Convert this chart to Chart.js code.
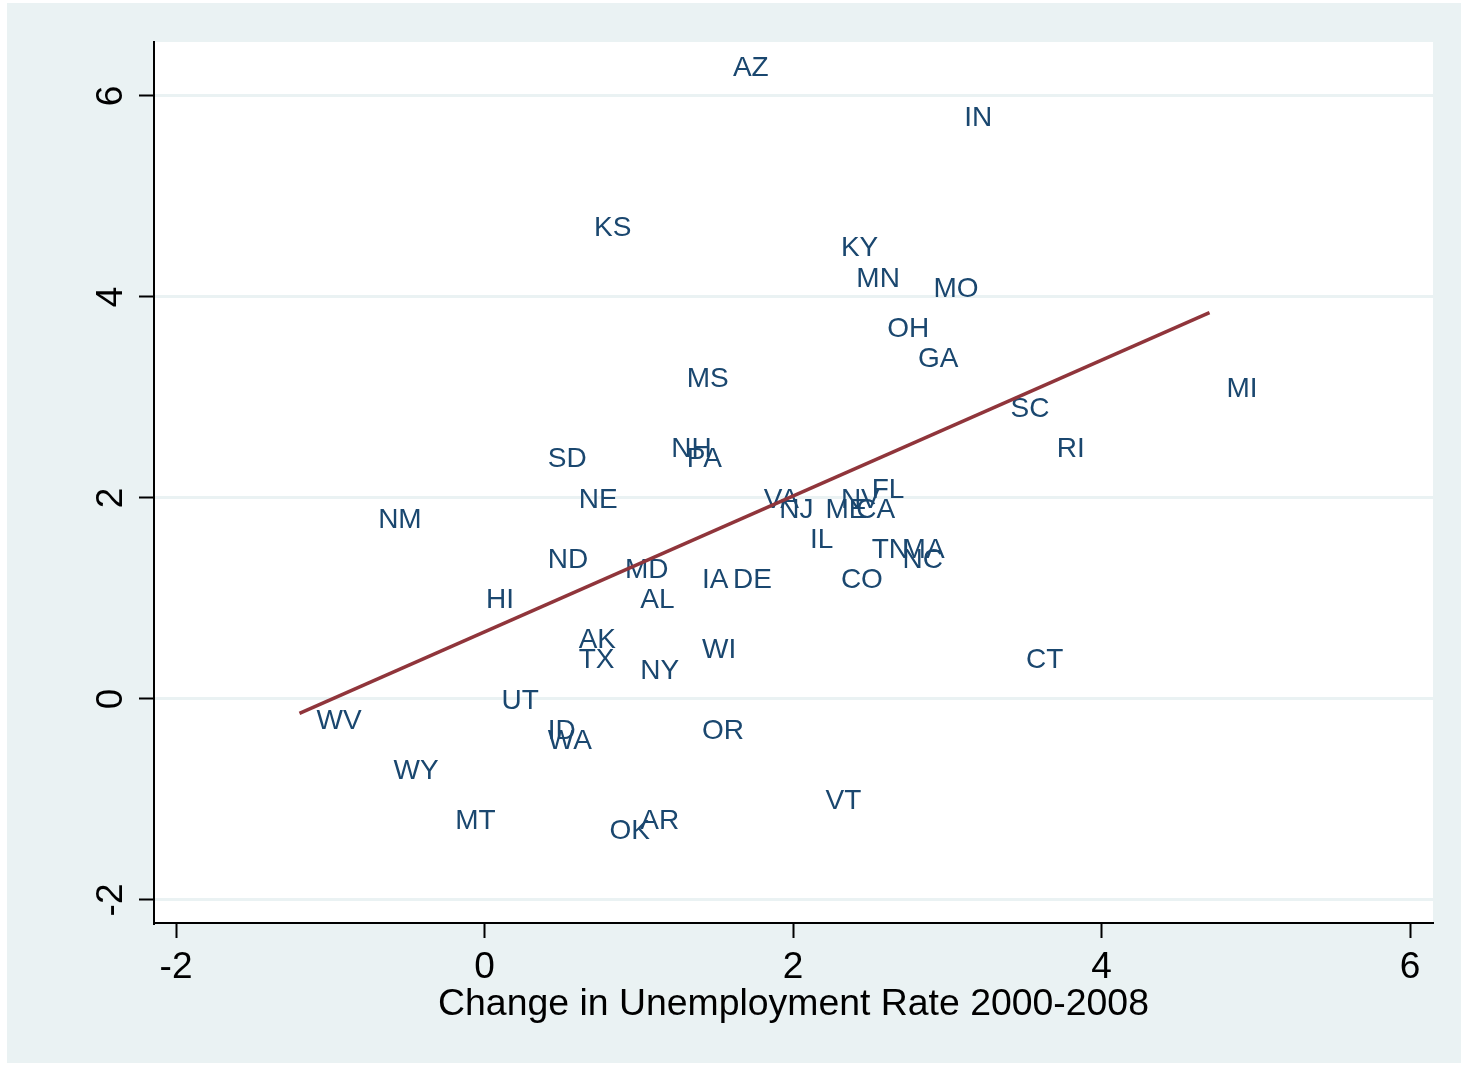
<!DOCTYPE html>
<html>
<head>
<meta charset="utf-8">
<title>Unemployment change by state</title>
<script src="https://cdn.jsdelivr.net/npm/chart.js@4.4.1/dist/chart.umd.min.js"></script>
<style>
  html, body { margin: 0; padding: 0; background: #fff; overflow: hidden; }
  canvas { display: block; }
</style>
</head>
<body>
<canvas id="myChart" width="1461" height="1065"></canvas>
<script>
// state codes, change in unemployment 2000-2008 (x) and the outcome on the y axis
const states = [
  'AZ', 'IN', 'KS', 'KY', 'MN', 'MO', 'OH', 'GA', 'MS', 'MI',
  'SC', 'RI', 'NH', 'PA', 'SD', 'NE', 'VA', 'NV', 'FL', 'NJ',
  'ME', 'CA', 'IL', 'TN', 'MA', 'NC', 'CO', 'NM', 'ND', 'MD',
  'IA', 'DE', 'AL', 'HI', 'AK', 'TX', 'WI', 'NY', 'CT', 'UT',
  'WV', 'ID', 'WA', 'OR', 'WY', 'VT', 'MT', 'AR', 'OK'
];
const unempChange = [
  1.5, 3.0, 0.6, 2.2, 2.3, 2.8, 2.5, 2.7, 1.2, 4.7,
  3.3, 3.6, 1.1, 1.2, 0.3, 0.5, 1.7, 2.2, 2.4, 1.8,
  2.1, 2.3, 2.0, 2.4, 2.6, 2.6, 2.2, -0.8, 0.3, 0.8,
  1.3, 1.5, 0.9, -0.1, 0.5, 0.5, 1.3, 0.9, 3.4, 0.0,
  -1.2, 0.3, 0.3, 1.3, -0.7, 2.1, -0.3, 0.9, 0.7
];
const yValues = [
  6.3, 5.8, 4.7, 4.5, 4.2, 4.1, 3.7, 3.4, 3.2, 3.1,
  2.9, 2.5, 2.5, 2.4, 2.4, 2.0, 2.0, 2.0, 2.1, 1.9,
  1.9, 1.9, 1.6, 1.5, 1.5, 1.4, 1.2, 1.8, 1.4, 1.3,
  1.2, 1.2, 1.0, 1.0, 0.6, 0.4, 0.5, 0.3, 0.4, 0.0,
  -0.2, -0.3, -0.4, -0.3, -0.7, -1.0, -1.2, -1.2, -1.3
];
const xTicks = [-2, 0, 2, 4, 6];
const yTicks = [-2, 0, 2, 4, 6];
const xTitle = 'Change in Unemployment Rate 2000-2008';

const FONT = "'Liberation Sans', Arial, Helvetica, sans-serif";
const navy = '#1a476f';
const maroon = '#90353b';
const bluishGray = '#eaf2f3';

let points = states.map((s, i) => ({ x: unempChange[i], y: yValues[i], label: s }));

// least squares fit, drawn over the observed range of x
function linearFit(xs, ys) {
  let n = xs.length;
  let mx = xs.reduce((a, b) => a + b, 0) / n;
  let my = ys.reduce((a, b) => a + b, 0) / n;
  let sxy = 0, sxx = 0;
  for (let i = 0; i < n; i++) {
    sxy += (xs[i] - mx) * (ys[i] - my);
    sxx += (xs[i] - mx) * (xs[i] - mx);
  }
  let slope = sxy / sxx;
  return { slope: slope, intercept: my - slope * mx };
}
const fit = linearFit(unempChange, yValues);
const xLo = Math.min(...unempChange);
const xHi = Math.max(...unempChange);
let fitLine = [
  { x: xLo, y: fit.intercept + fit.slope * xLo },
  { x: xHi, y: fit.intercept + fit.slope * xHi }
];

const background = {
  id: 'background',
  beforeDraw(chart) {
    const { ctx, chartArea } = chart;
    ctx.save();
    ctx.fillStyle = '#fff';
    ctx.fillRect(0, 0, chart.width, chart.height);
    ctx.fillStyle = bluishGray;
    ctx.fillRect(7, 3, chart.width - 7, 1060);
    ctx.fillStyle = '#fff';
    ctx.fillRect(chartArea.left, chartArea.top,
      chartArea.right - chartArea.left, chartArea.bottom - chartArea.top);
    ctx.restore();
  }
};

// state abbreviations sit to the right of each (invisible) point
const stateLabels = {
  id: 'stateLabels',
  afterDatasetDraw(chart, args) {
    if (args.index !== 0) return;
    const { ctx } = chart;
    ctx.save();
    ctx.fillStyle = navy;
    ctx.font = '28px ' + FONT;
    ctx.textAlign = 'left';
    ctx.textBaseline = 'middle';
    args.meta.data.forEach((pt, i) => {
      ctx.fillText(points[i].label, pt.x + 17, pt.y + 2);
    });
    ctx.restore();
  }
};

// vertical tick labels on the y axis
const yTickLabels = {
  id: 'yTickLabels',
  afterDraw(chart) {
    const { ctx } = chart;
    const yScale = chart.scales.y;
    ctx.save();
    ctx.fillStyle = '#000';
    ctx.font = '37px ' + FONT;
    ctx.textAlign = 'center';
    ctx.textBaseline = 'middle';
    yTicks.forEach(v => {
      ctx.save();
      ctx.translate(112, yScale.getPixelForValue(v));
      ctx.rotate(-Math.PI / 2);
      ctx.fillText(String(v), 0, 0);
      ctx.restore();
    });
    ctx.restore();
  }
};

let ctx = document.getElementById('myChart').getContext('2d');
let myChart = new Chart(ctx, {
  type: 'scatter',
  data: {
    datasets: [
      {
        data: points,
        pointRadius: 0,
        pointHoverRadius: 0,
        showLine: false,
        order: 1
      },
      {
        type: 'line',
        data: fitLine,
        borderColor: maroon,
        borderWidth: 3.5,
        pointRadius: 0,
        fill: false,
        order: 0
      }
    ]
  },
  options: {
    responsive: false,
    devicePixelRatio: 1,
    animation: false,
    events: [],
    layout: { padding: { top: 42, right: 28, left: 0, bottom: 0 } },
    plugins: {
      legend: { display: false },
      tooltip: { enabled: false }
    },
    scales: {
      x: {
        type: 'linear',
        min: -2.143,
        max: 6.149,
        afterBuildTicks: scale => { scale.ticks = xTicks.map(v => ({ value: v })); },
        afterFit: scale => { scale.height = 142; },
        border: { display: true, color: '#000', width: 2 },
        grid: {
          drawOnChartArea: false,
          drawTicks: true,
          tickLength: 15,
          tickColor: '#000',
          tickWidth: 2
        },
        ticks: {
          color: '#000',
          padding: 8,
          maxRotation: 0,
          font: { family: FONT, size: 37 },
          callback: v => String(v)
        },
        title: {
          display: true,
          text: xTitle,
          color: '#000',
          font: { family: FONT, size: 37.4 },
          padding: { top: 0, bottom: 38 }
        }
      },
      y: {
        type: 'linear',
        min: -2.229,
        max: 6.537,
        afterBuildTicks: scale => { scale.ticks = yTicks.map(v => ({ value: v })); },
        afterFit: scale => { scale.width = 154; },
        border: { display: true, color: '#000', width: 2 },
        grid: {
          drawOnChartArea: true,
          color: bluishGray,
          lineWidth: 3,
          drawTicks: true,
          tickLength: 15,
          tickColor: '#000',
          tickWidth: 2
        },
        ticks: { display: false }
      }
    }
  },
  plugins: [background, stateLabels, yTickLabels]
});
</script>
</body>
</html>
